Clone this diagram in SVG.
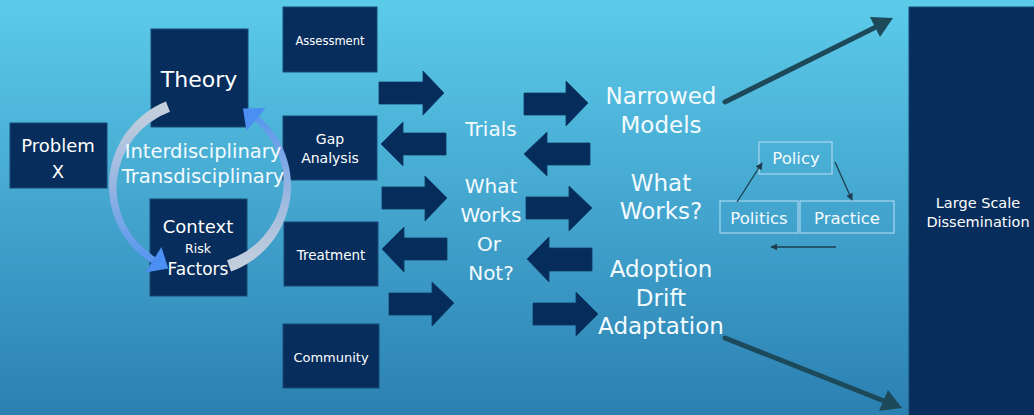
<svg xmlns="http://www.w3.org/2000/svg" width="1034" height="415" viewBox="0 0 1034 415">
<defs>
<linearGradient id="bg" x1="0" y1="0" x2="0" y2="1">
<stop offset="0" stop-color="#5ccbea"/>
<stop offset="1" stop-color="#2b80b2"/>
</linearGradient>
<linearGradient id="gl" gradientUnits="userSpaceOnUse" x1="0" y1="100" x2="0" y2="275">
<stop offset="0" stop-color="#c9d2dc"/>
<stop offset="0.45" stop-color="#9cb8e0"/>
<stop offset="1" stop-color="#4b8ff2"/>
</linearGradient>
<linearGradient id="gr" gradientUnits="userSpaceOnUse" x1="0" y1="275" x2="0" y2="100">
<stop offset="0" stop-color="#c9d2dc"/>
<stop offset="0.45" stop-color="#9cb8e0"/>
<stop offset="1" stop-color="#4b8ff2"/>
</linearGradient>
<marker id="sm" viewBox="0 0 10 10" refX="9" refY="5" markerWidth="7" markerHeight="7" orient="auto" markerUnits="userSpaceOnUse">
<path d="M0,0 L10,5 L0,10 z" fill="#1e3d4c"/>
</marker>
<style>
.box{fill:#062d5c;stroke:#164a74;stroke-width:1}
.blk{fill:#052c5a;stroke:#0c3a66;stroke-width:0.8}
.t{font-family:"DejaVu Sans",sans-serif;fill:#ffffff;text-anchor:middle}
.w{font-family:"DejaVu Sans",sans-serif;fill:#f4fbff;text-anchor:middle}
.pb{fill:none;stroke:#a8d6f2;stroke-width:1.2}
.thin{stroke:#1e3d4c;stroke-width:1.3;fill:none;marker-end:url(#sm)}
.thick{stroke:#1d4a5a;stroke-width:5;stroke-linecap:round;fill:none}
.head{fill:#1d4a5a}
</style>
</defs>
<rect x="0" y="0" width="1034" height="415" fill="url(#bg)"/>

<g id="problem">
<rect class="box" x="10" y="123" width="97" height="65"/>
<text class="t" x="58" y="152" font-size="18">Problem</text>
<text class="t" x="58" y="178" font-size="18">X</text>
</g>
<g id="theory">
<rect class="box" x="151" y="29" width="97" height="98"/>
<text class="t" x="199" y="87" font-size="22">Theory</text>
</g>
<g id="context">
<rect class="box" x="150" y="199" width="97" height="97"/>
<text class="t" x="198" y="233" font-size="18">Context</text>
<text class="t" x="198" y="253" font-size="12.5">Risk</text>
<text class="t" x="198" y="275" font-size="17">Factors</text>
</g>

<g id="assessment">
<rect class="box" x="283" y="7" width="94" height="65"/>
<text class="t" x="330" y="45" font-size="11.5">Assessment</text>
</g>
<g id="gap">
<rect class="box" x="283" y="116" width="94" height="64"/>
<text class="t" x="330" y="144" font-size="14">Gap</text>
<text class="t" x="330" y="163" font-size="14">Analysis</text>
</g>
<g id="treatment">
<rect class="box" x="284" y="222" width="94" height="64"/>
<text class="t" x="331" y="260" font-size="13.5">Treatment</text>
</g>
<g id="community">
<rect class="box" x="283" y="324" width="96" height="64"/>
<text class="t" x="331" y="362" font-size="13">Community</text>
</g>

<g id="cycle">
<path d="M 165.9 101.6 A 91 91 0 0 0 151.8 263.2 L 155.5 257.2 A 81 81 0 0 1 170 111.8 Z" fill="url(#gl)"/>
<polygon points="145.5,272.5 161.4,247 168.3,268.5" fill="#4b8ff2"/>
<path d="M 231.1 271.5 A 91 91 0 0 0 258.5 116.3 L 254.6 120.9 A 81 81 0 0 1 227 260.2 Z" fill="url(#gr)"/>
<polygon points="265.6,108 246.4,131 243,108.6" fill="#4b8ff2"/>
<text class="w" x="203" y="158" font-size="19.5">Interdisciplinary</text>
<text class="w" x="203" y="183" font-size="19.5">Transdisciplinary</text>
</g>

<g id="block-arrows">
<polygon class="blk" points="379,82 423,82 423,71 444,93 423,115 423,104 379,104"/>
<polygon class="blk" points="381,144 403,122 403,133 446,133 446,155 403,155 403,166"/>
<polygon class="blk" points="382,187 425,187 425,176 447,198 425,221 425,209 382,209"/>
<polygon class="blk" points="382,249 404,227 404,238 447,238 447,260 404,260 404,272"/>
<polygon class="blk" points="389,293 432,293 432,282 454,303 432,326 432,315 389,315"/>
<polygon class="blk" points="524,93 566,93 566,81 588,103 566,126 566,115 524,115"/>
<polygon class="blk" points="524,154 547,132 547,143 590,143 590,165 547,165 547,176"/>
<polygon class="blk" points="526,197 569,197 569,186 592,208 569,231 569,219 526,219"/>
<polygon class="blk" points="527,259 549,237 549,248 592,248 592,271 549,271 549,282"/>
<polygon class="blk" points="533,303 576,303 576,292 598,314 576,336 576,325 533,325"/>
</g>

<g id="trials">
<text class="w" x="491" y="136" font-size="20">Trials</text>
</g>
<g id="whatworks-or-not">
<text class="w" x="491" y="193" font-size="20">What</text>
<text class="w" x="491" y="222" font-size="20">Works</text>
<text class="w" x="489" y="251" font-size="20">Or</text>
<text class="w" x="491" y="280" font-size="20">Not?</text>
</g>
<g id="narrowed">
<text class="w" x="661" y="104" font-size="23">Narrowed</text>
<text class="w" x="661" y="133" font-size="23">Models</text>
</g>
<g id="whatworks">
<text class="w" x="661" y="191" font-size="23">What</text>
<text class="w" x="661" y="219" font-size="23">Works?</text>
</g>
<g id="adoption">
<text class="w" x="661" y="277" font-size="23">Adoption</text>
<text class="w" x="661" y="306" font-size="23">Drift</text>
<text class="w" x="661" y="334" font-size="23">Adaptation</text>
</g>

<g id="policy">
<rect class="pb" x="759" y="142" width="73" height="32"/>
<text class="w" x="796" y="164" font-size="16.5">Policy</text>
</g>
<g id="politics">
<rect class="pb" x="720" y="201" width="78" height="32"/>
<text class="w" x="759" y="224" font-size="16.5">Politics</text>
</g>
<g id="practice">
<rect class="pb" x="800" y="201" width="94" height="32"/>
<text class="w" x="847" y="224" font-size="16.5">Practice</text>
</g>

<g id="large-scale">
<rect class="box" x="909" y="7" width="130" height="420"/>
<text class="t" x="978" y="208" font-size="14.5">Large Scale</text>
<text class="t" x="978" y="227" font-size="14.5">Dissemination</text>
</g>

<g id="connectors">
<line class="thin" x1="737" y1="202" x2="762" y2="163"/>
<line class="thin" x1="835" y1="162" x2="852" y2="200"/>
<line class="thin" x1="836" y1="247" x2="771" y2="247"/>
<line class="thick" x1="725" y1="102" x2="876" y2="27"/>
<polygon class="head" points="893,18 880,37 870,17"/>
<line class="thick" x1="725" y1="338" x2="884" y2="401"/>
<polygon class="head" points="902,408 879,411 888,390"/>
</g>
</svg>
